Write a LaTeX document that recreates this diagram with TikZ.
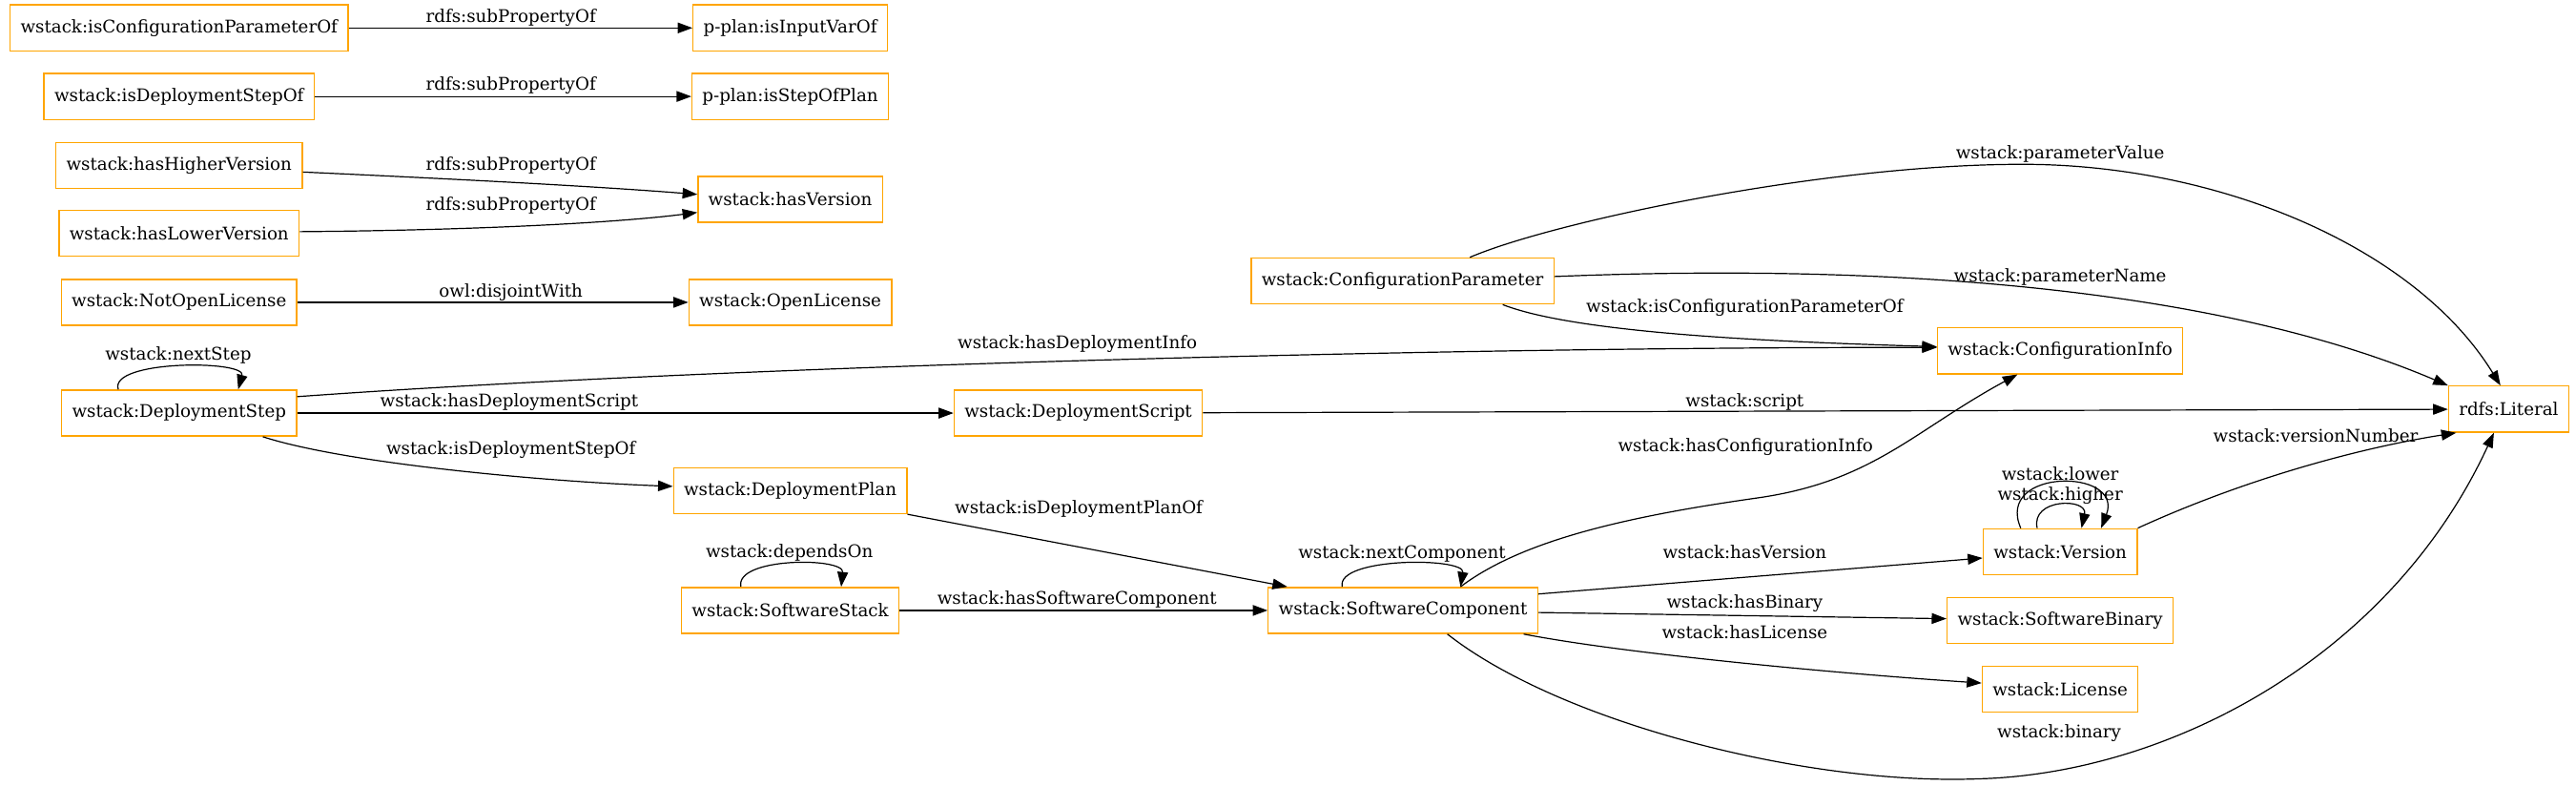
\documentclass[tikz,border=0pt]{standalone}
\usepackage{fontspec}
\setmainfont{DejaVu Serif}
\usetikzlibrary{arrows.meta, calc}
\definecolor{gvorange}{HTML}{FFA500}

\begin{document}
\begin{tikzpicture}[
    x=1pt, y=-1pt,
    font=\fontsize{10.6pt}{12pt}\selectfont,
    classbox/.style={rectangle, draw=gvorange, line width=0.8pt, minimum height=28pt, inner xsep=6.3pt, inner ysep=0pt},
    lbl/.style={inner sep=0pt},
    arr/.style={-{Triangle[length=9pt, width=6.5pt]}, line width=0.7pt, draw=black}
]
\useasboundingbox (0,0) rectangle (1568,478);
\node[classbox] (icpo) at (109,17) {wstack:isConfigurationParameterOf};
\node[classbox] (ivo) at (481,17) {p-plan:isInputVarOf};
\node[classbox] (idso) at (109,58.7) {wstack:isDeploymentStepOf};
\node[classbox] (sop) at (481,58.7) {p-plan:isStepOfPlan};
\node[classbox] (hhv) at (109,100.7) {wstack:hasHigherVersion};
\node[classbox] (hlv) at (109,142) {wstack:hasLowerVersion};
\node[classbox] (hv) at (481,121.3) {wstack:hasVersion};
\node[classbox] (nol) at (109,184) {wstack:NotOpenLicense};
\node[classbox] (ol) at (481,184) {wstack:OpenLicense};
\node[classbox] (dstep) at (109,251.4) {wstack:DeploymentStep};
\node[classbox] (dscript) at (656.3,251.4) {wstack:DeploymentScript};
\node[classbox] (dplan) at (481,298.6) {wstack:DeploymentPlan};
\node[classbox] (sstack) at (481,371.5) {wstack:SoftwareStack};
\node[classbox] (cparam) at (853.7,171) {wstack:ConfigurationParameter};
\node[classbox] (scomp) at (854,371.5) {wstack:SoftwareComponent};
\node[classbox] (cinfo) at (1254,213.5) {wstack:ConfigurationInfo};
\node[classbox] (version) at (1254,335.8) {wstack:Version};
\node[classbox] (sbinary) at (1254,377.6) {wstack:SoftwareBinary};
\node[classbox] (license) at (1254,419.5) {wstack:License};
\node[classbox] (literal) at (1527,249) {rdfs:Literal};

\draw[arr] (icpo) -- (ivo);
\draw[arr] (idso) -- (sop);
\draw[arr] ($(hhv.east)+(0,4)$) .. controls (300,110) and (370,114) .. ($(hv.west)+(0,-3)$);
\draw[arr] ($(hlv.east)+(0,-1)$) .. controls (300,140) and (380,135) .. ($(hv.west)+(0,8)$);
\draw[arr] (nol) -- (ol);
\draw[arr] ($(dstep.north)+(-37,0)$) .. controls (66,219) and (150,219) .. ($(dstep.north)+(36,0)$);
\draw[arr] ($(dstep.east)+(0,-10)$) .. controls (450,222) and (900,211) .. ($(cinfo.west)+(0,-2)$);
\draw[arr] (dstep) -- (dscript);
\draw[arr] ($(dstep.south)+(51,0)$) .. controls (210,282) and (330,293) .. ($(dplan.west)+(0,-2.6)$);
\draw[arr] (dplan.south east) -- ($(scomp.north west)+(12,0)$);
\draw[arr] ($(sstack.north)+(-30,0)$) .. controls (447,339) and (514,339) .. ($(sstack.north)+(31,0)$);
\draw[arr] (sstack) -- (scomp);
\draw[arr] ($(scomp.north)+(-37,0)$) .. controls (813,339) and (892,339) .. ($(scomp.north)+(35,0)$);
\draw[arr] ($(scomp.north)+(35,0)$) .. controls (925,330) and (985,315) .. (1070,303) .. controls (1140,293) and (1165,262) .. ($(cinfo.south)+(-26,0)$);
\draw[arr] ($(cparam.north)+(41,0)$) .. controls (945,135) and (1110,100) .. (1231,100) .. controls (1350,100) and (1470,150) .. ($(literal.north)+(-5,0)$);
\draw[arr] ($(cparam.east)+(0,-2.7)$) .. controls (1150,160) and (1350,175) .. (literal.north west);
\draw[arr] ($(cparam.south)+(61,0)$) .. controls (960,203) and (1080,208) .. ($(cinfo.west)+(0,-2.5)$);
\draw[arr] (dscript) -- (literal);
\draw[arr] (version.north east) .. controls (1370,290) and (1440,272) .. ($(literal.south west)+(5,0)$);
\draw[arr] ($(version.north)+(-24,0)$) .. controls (1214,284.7) and (1293,284.7) .. ($(version.north)+(25,0)$);
\draw[arr] ($(version.north)+(-14,0)$) .. controls (1236,303) and (1271,303) .. ($(version.north)+(13,0)$);
\draw[arr] ($(scomp.east)+(0,-10)$) -- ($(version.west)+(0,3.8)$);
\draw[arr] (scomp) -- (sbinary);
\draw[arr] ($(scomp.south east)+(-9,0)$) .. controls (990,398) and (1120,410) .. ($(license.west)+(0,-3.8)$);
\draw[arr] ($(scomp.south)+(27,0)$) .. controls (950,440) and (1100,478) .. (1204,474) .. controls (1320,471) and (1455,400) .. ($(literal.south)+(-9,0)$);

\node[lbl] (sub1) at (311,10.6) {rdfs:subPropertyOf};
\node[lbl] (sub2) at (311,52.3) {rdfs:subPropertyOf};
\node[lbl] (sub3) at (311,100.6) {rdfs:subPropertyOf};
\node[lbl] (sub4) at (311,125.4) {rdfs:subPropertyOf};
\node[lbl] (disj) at (311,177.7) {owl:disjointWith};
\node[lbl] (nstep) at (108.5,216) {wstack:nextStep};
\node[lbl] (hdinfo) at (655.8,209.6) {wstack:hasDeploymentInfo};
\node[lbl] (hdscript) at (310,245) {wstack:hasDeploymentScript};
\node[lbl] (idsof) at (311,274) {wstack:isDeploymentStepOf};
\node[lbl] (depon) at (480.5,336.5) {wstack:dependsOn};
\node[lbl] (hscomp) at (655.6,365) {wstack:hasSoftwareComponent};
\node[lbl] (idpof) at (656.6,309.5) {wstack:isDeploymentPlanOf};
\node[lbl] (ncomp) at (853.4,336.8) {wstack:nextComponent};
\node[lbl] (pval) at (1254,94) {wstack:parameterValue};
\node[lbl] (pname) at (1254,168.7) {wstack:parameterName};
\node[lbl] (icpof) at (1062,187.3) {wstack:isConfigurationParameterOf};
\node[lbl] (scr) at (1062,244.8) {wstack:script};
\node[lbl] (hcinfo) at (1062.5,272.3) {wstack:hasConfigurationInfo};
\node[lbl] (vnum) at (1409.5,265.4) {wstack:versionNumber};
\node[lbl] (lower) at (1254,288.3) {wstack:lower};
\node[lbl] (higher) at (1254,301.9) {wstack:higher};
\node[lbl] (hver) at (1062,335.7) {wstack:hasVersion};
\node[lbl] (hbin) at (1062,367.3) {wstack:hasBinary};
\node[lbl] (hlic) at (1062,384.7) {wstack:hasLicense};
\node[lbl] (bin) at (1253.4,446) {wstack:binary};
\end{tikzpicture}
\end{document}
